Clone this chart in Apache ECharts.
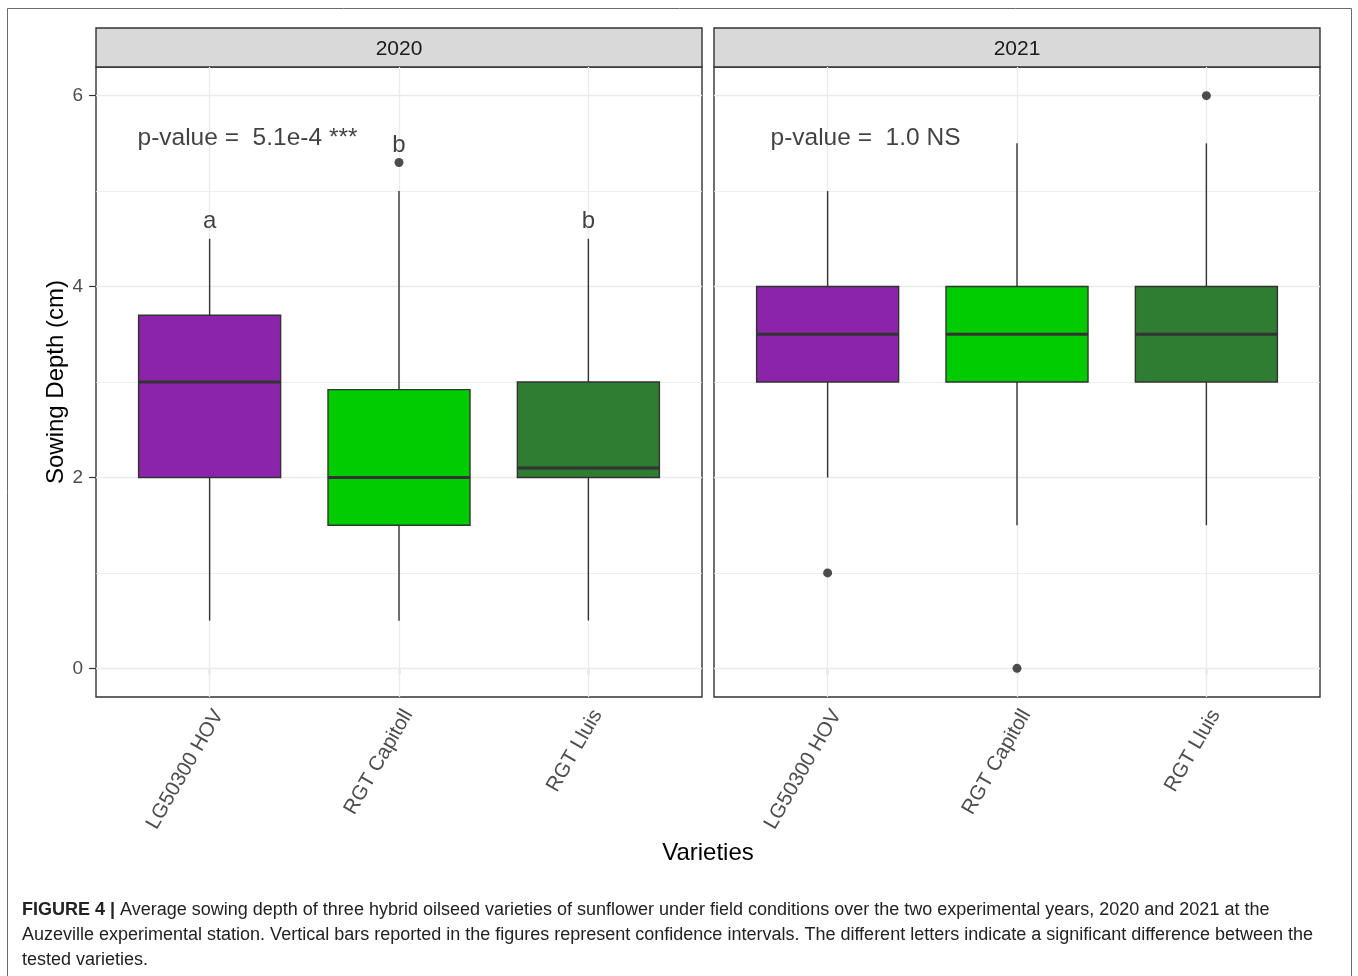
<!DOCTYPE html>
<html>
<head>
<meta charset="utf-8">
<title>Sowing depth by variety</title>
<script src="https://cdn.jsdelivr.net/npm/echarts@6/dist/echarts.min.js"></script>
<style>
  html, body { margin: 0; padding: 0; background: #ffffff; }
  #chart { width: 1358px; height: 976px; }
</style>
</head>
<body>
<div id="chart"></div>
<script>
// ---- data -------------------------------------------------------------
const varieties = ['LG50300 HOV', 'RGT Capitoll', 'RGT Lluis'];
const years = ['2020', '2021'];

// box summaries per variety (same order as varieties)
const lower2020  = [0.5, 0.5, 0.5];
const q1_2020    = [2.0, 1.5, 2.0];
const median2020 = [3.0, 2.0, 2.1];
const q3_2020    = [3.7, 2.92, 3.0];
const upper2020  = [4.5, 5.0, 4.5];

const lower2021  = [2.0, 1.5, 1.5];
const q1_2021    = [3.0, 3.0, 3.0];
const median2021 = [3.5, 3.5, 3.5];
const q3_2021    = [4.0, 4.0, 4.0];
const upper2021  = [5.0, 5.5, 5.5];

// points beyond the whiskers: [variety, depth]
const outliers2020 = [['RGT Capitoll', 5.3]];
const outliers2021 = [['LG50300 HOV', 1.0], ['RGT Capitoll', 0.0], ['RGT Lluis', 6.0]];

// significance groups (2020 only) and the depth at which each letter sits
const groupLetters2020 = ['a', 'b', 'b'];
const letterDepth2020  = [4.68, 5.48, 4.68];

// test result per year, anchored at [x, depth]
const pValueLabels = ['p-value =  5.1e-4 ***', 'p-value =  1.0 NS'];
const pValueAnchor = [1.2, 5.55];

const yTicks = [0, 2, 4, 6];
const yMinor = [1, 3, 5];

// ---- styles -----------------------------------------------------------
const FONT = '"Liberation Sans", Arial, Helvetica, sans-serif';
const FILLS = ['#8B24A8', '#00CC00', '#2E7D32'];
const INK = '#333333';
const GRID_LINE = '#EBEBEB';
const AXIS_TEXT = '#4D4D4D';

const PANEL_TOP = 67, PANEL_H = 630, PANEL_W = 606;
const PANEL_LEFT = [96, 714];
const STRIP_H = 39;

const summaries = [
  [lower2020, q1_2020, median2020, q3_2020, upper2020],
  [lower2021, q1_2021, median2021, q3_2021, upper2021]
];
const outliers = [outliers2020, outliers2021];
const xPositions = varieties.map((_, k) => k + 1);

function boxData(yearIdx) {
  const [lo, q1, med, q3, hi] = summaries[yearIdx];
  return varieties.map((_, k) => [xPositions[k], lo[k], q1[k], med[k], q3[k], hi[k]]);
}

// ggplot-style box: plain whiskers without caps, heavier median bar
function renderBox(params, api) {
  const x = api.value(0);
  const pLo = api.coord([x, api.value(1)]);
  const pQ1 = api.coord([x, api.value(2)]);
  const pMed = api.coord([x, api.value(3)]);
  const pQ3 = api.coord([x, api.value(4)]);
  const pHi = api.coord([x, api.value(5)]);
  const w = api.size([0.75, 0])[0];
  const cx = pMed[0];
  const line = { stroke: INK, lineWidth: 1.4 };
  return {
    type: 'group',
    children: [
      { type: 'line', shape: { x1: cx, y1: pLo[1], x2: cx, y2: pQ1[1] }, style: line },
      { type: 'line', shape: { x1: cx, y1: pQ3[1], x2: cx, y2: pHi[1] }, style: line },
      { type: 'rect', shape: { x: cx - w / 2, y: pQ3[1], width: w, height: pQ1[1] - pQ3[1] },
        style: { fill: FILLS[params.dataIndex], stroke: INK, lineWidth: 1.4 } },
      { type: 'line', shape: { x1: cx - w / 2, y1: pMed[1], x2: cx + w / 2, y2: pMed[1] },
        style: { stroke: INK, lineWidth: 3 } }
    ]
  };
}

const grids = PANEL_LEFT.map(left => ({
  left: left, top: PANEL_TOP, width: PANEL_W, height: PANEL_H,
  show: true, backgroundColor: '#ffffff', borderColor: INK, borderWidth: 1.4
}));

const xAxes = PANEL_LEFT.map((_, i) => ({
  type: 'value', gridIndex: i, min: 0.4, max: 3.6,
  axisLine: { show: false },
  splitLine: { show: false },
  axisTick: { show: true, customValues: xPositions, length: 6, lineStyle: { color: INK, width: 1.2 } },
  axisLabel: {
    customValues: xPositions, rotate: 60, margin: 9, verticalAlign: 'top',
    fontFamily: FONT, fontSize: 20.5, color: AXIS_TEXT,
    formatter: v => varieties[Math.round(v) - 1] || ''
  }
}));

const yAxes = PANEL_LEFT.map((_, i) => ({
  type: 'value', gridIndex: i, min: -0.3, max: 6.3,
  axisLine: { show: false },
  splitLine: { show: false },
  axisTick: { show: i === 0, customValues: yTicks, length: 7, lineStyle: { color: INK, width: 1.2 } },
  axisLabel: { show: i === 0, customValues: yTicks, margin: 13, fontFamily: FONT, fontSize: 19, color: AXIS_TEXT },
  name: i === 0 ? 'Sowing Depth (cm)' : '',
  nameLocation: 'middle', nameGap: 28, nameRotate: 90,
  nameTextStyle: { fontFamily: FONT, fontSize: 24, color: '#000000' }
}));

const series = [];
PANEL_LEFT.forEach((_, i) => {
  // panel grid lines
  series.push({
    type: 'scatter', xAxisIndex: i, yAxisIndex: i, data: [], silent: true,
    markLine: {
      silent: true, symbol: 'none', animation: false, z: 1,
      label: { show: false },
      lineStyle: { color: GRID_LINE, type: 'solid', width: 1.3 },
      data: [
        ...yMinor.map(v => ({ yAxis: v, lineStyle: { color: GRID_LINE, width: 0.8, type: 'solid' } })),
        ...yTicks.map(v => ({ yAxis: v })),
        ...xPositions.map(v => ({ xAxis: v }))
      ]
    }
  });
  // boxes
  series.push({
    type: 'custom', xAxisIndex: i, yAxisIndex: i, z: 5, silent: true,
    renderItem: renderBox,
    encode: { x: 0, y: [1, 2, 3, 4, 5] },
    data: boxData(i)
  });
  // outlying points
  series.push({
    type: 'scatter', xAxisIndex: i, yAxisIndex: i, z: 6, silent: true,
    symbol: 'circle', symbolSize: 9,
    itemStyle: { color: '#222222' },
    data: outliers[i].map(([name, v]) => [varieties.indexOf(name) + 1, v])
  });
  // p-value annotation
  series.push({
    type: 'scatter', xAxisIndex: i, yAxisIndex: i, z: 7, silent: true,
    symbolSize: 0,
    label: { show: true, position: 'inside', formatter: '{b}',
             fontFamily: FONT, fontSize: 24.5, color: '#111111' },
    data: [{ name: pValueLabels[i], value: pValueAnchor }]
  });
});

// group letters above the 2020 boxes
series.push({
  type: 'scatter', xAxisIndex: 0, yAxisIndex: 0, z: 7, silent: true,
  symbolSize: 0,
  label: { show: true, position: 'inside', formatter: '{b}',
           fontFamily: FONT, fontSize: 24, color: '#111111' },
  data: groupLetters2020.map((g, k) => ({ name: g, value: [xPositions[k], letterDepth2020[k]] }))
});

const captionLines = [
  ' Average sowing depth of three hybrid oilseed varieties of sunflower under field conditions over the two experimental years, 2020 and 2021 at the',
  'Auzeville experimental station. Vertical bars reported in the figures represent confidence intervals. The different letters indicate a significant difference between the',
  'tested varieties.'
];
const CAPTION = { fontFamily: FONT, fontSize: 18, fill: '#222222', verticalAlign: 'middle' };

const graphic = [
  { type: 'rect', silent: true, z: -1,
    shape: { x: 7.5, y: 8.5, width: 1344, height: 1000 },
    style: { fill: 'none', stroke: '#6b6b6b', lineWidth: 1 } },
  ...years.map((yr, i) => ({
    type: 'group', silent: true,
    children: [
      { type: 'rect', shape: { x: PANEL_LEFT[i], y: PANEL_TOP - STRIP_H, width: PANEL_W, height: STRIP_H },
        style: { fill: '#D9D9D9', stroke: INK, lineWidth: 1.4 } },
      { type: 'text', x: PANEL_LEFT[i] + PANEL_W / 2, y: PANEL_TOP - STRIP_H / 2 + 2,
        style: { text: yr, fontFamily: FONT, fontSize: 21, fill: '#1A1A1A', align: 'center', verticalAlign: 'middle' } }
    ]
  })),
  { type: 'text', silent: true, x: 708, y: 853,
    style: { text: 'Varieties', fontFamily: FONT, fontSize: 24, fill: '#000000', align: 'center', verticalAlign: 'middle' } },
  { type: 'text', silent: true, x: 22, y: 910,
    style: Object.assign({}, CAPTION, {
      text: '{b|FIGURE 4 |}' + captionLines[0],
      rich: { b: { fontWeight: 'bold', fontFamily: FONT, fontSize: 18, fill: '#222222' } }
    }) },
  { type: 'text', silent: true, x: 22, y: 935, style: Object.assign({}, CAPTION, { text: captionLines[1] }) },
  { type: 'text', silent: true, x: 22, y: 960, style: Object.assign({}, CAPTION, { text: captionLines[2] }) }
];

const chart = echarts.init(document.getElementById('chart'), null, { renderer: 'canvas' });
chart.setOption({
  animation: false,
  backgroundColor: '#ffffff',
  grid: grids,
  xAxis: xAxes,
  yAxis: yAxes,
  series: series,
  graphic: graphic
});
</script>
</body>
</html>
